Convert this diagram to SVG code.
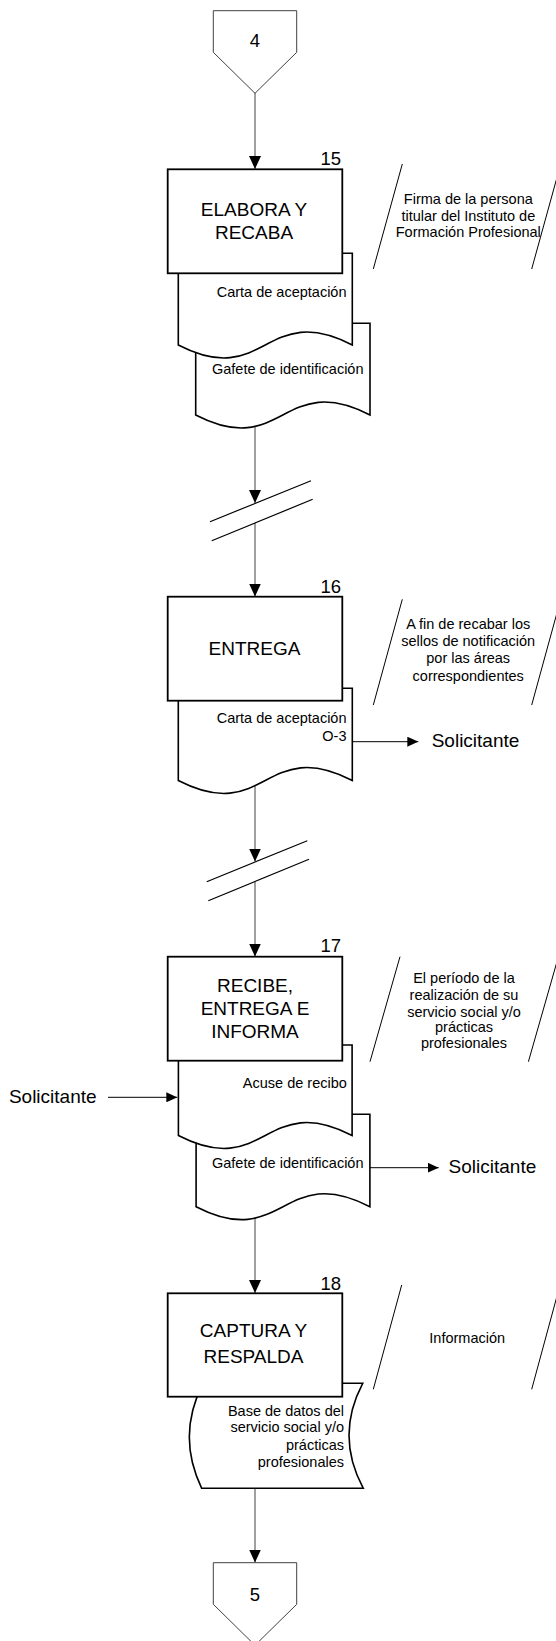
<svg xmlns="http://www.w3.org/2000/svg" width="556" height="1641" viewBox="0 0 556 1641">
<style>
.conn{fill:none;stroke:#808080;stroke-width:1.5}
.hline{fill:none;stroke:#000;stroke-width:1}
.off{fill:#fff;stroke:#404040;stroke-width:1}
.box{fill:#fff;stroke:#000;stroke-width:1.8}
.doc{fill:#fff;stroke:#000;stroke-width:1.6}
.brk{fill:none;stroke:#000;stroke-width:1.2}
.ann{fill:none;stroke:#000;stroke-width:1}
text{font-family:"Liberation Sans",Arial,sans-serif;fill:#000}
.big{font-size:19px;text-anchor:middle}
.num{font-size:18.5px;text-anchor:end}
.lbl{font-size:18.5px;text-anchor:middle}
.small{font-size:14.5px;text-anchor:end}
.note{font-size:14.5px;text-anchor:middle}
.sol{font-size:19px}
</style>
<defs>
<marker id="av" markerUnits="userSpaceOnUse" markerWidth="13" markerHeight="12" refX="13" refY="6" orient="auto"><path d="M0,0 L13,6 L0,12 Z" fill="#000"/></marker>
<marker id="ah" markerUnits="userSpaceOnUse" markerWidth="11" markerHeight="10" refX="11" refY="5" orient="auto"><path d="M0,0 L11,5 L0,10 Z" fill="#000"/></marker>
</defs>

<g id="connectors">
<line class="conn" x1="255" y1="93" x2="255" y2="169" marker-end="url(#av)"/>
<line class="conn" x1="255" y1="415" x2="255" y2="503" marker-end="url(#av)"/>
<line class="conn" x1="255" y1="523" x2="255" y2="596.5" marker-end="url(#av)"/>
<line class="conn" x1="255" y1="780" x2="255" y2="861.5" marker-end="url(#av)"/>
<line class="conn" x1="255" y1="881.5" x2="255" y2="956.5" marker-end="url(#av)"/>
<line class="conn" x1="255" y1="1206" x2="255" y2="1293" marker-end="url(#av)"/>
<line class="conn" x1="255" y1="1488" x2="255" y2="1562.5" marker-end="url(#av)"/>
<line class="hline" x1="352" y1="741.7" x2="418.3" y2="741.7" marker-end="url(#ah)"/>
<line class="hline" x1="108" y1="1097.3" x2="177.3" y2="1097.3" marker-end="url(#ah)"/>
<line class="hline" x1="370" y1="1167.7" x2="438.7" y2="1167.7" marker-end="url(#ah)"/>
<g id="break1">
<line class="brk" x1="210" y1="521.7" x2="311" y2="480.7"/>
<line class="brk" x1="211.7" y1="540.7" x2="312.7" y2="499.3"/>
</g>
<g id="break2">
<line class="brk" x1="206.7" y1="881.7" x2="307.3" y2="840.7"/>
<line class="brk" x1="208.3" y1="900.7" x2="309" y2="859.3"/>
</g>
</g>

<g id="offpage4">
<path class="off" d="M213.3,10.7 L296.7,10.7 L296.7,52.3 L255,93.3 L213.3,52.3 Z"/>
<text class="lbl" x="255" y="47">4</text>
</g>

<!-- Step 15 -->
<g id="doc15b">
<path class="doc" d="M195.7,323.3 L370,323.3 L370,415 C282.8,370 282.8,460 195.7,415 Z"/>
<text class="small" x="363.5" y="374">Gafete de identificación</text>
</g>
<g id="doc15a">
<path class="doc" d="M178.3,253.3 L352.3,253.3 L352.3,345 C265.3,300 265.3,390 178.3,345 Z"/>
<text class="small" x="346.5" y="296.7">Carta de aceptación</text>
</g>
<g id="step15">
<rect class="box" x="167.7" y="169.3" width="174.6" height="104"/>
<text class="big" x="254" y="215.7">ELABORA Y</text>
<text class="big" x="254" y="238.5">RECABA</text>
<text class="num" x="341" y="165">15</text>
</g>
<g id="note15">
<line class="ann" x1="402.3" y1="164" x2="373.3" y2="269"/>
<line class="ann" x1="560.7" y1="164" x2="531.7" y2="269"/>
<text class="note" x="468.3" y="204.3">Firma de la persona</text>
<text class="note" x="468.3" y="220.8">titular del Instituto de</text>
<text class="note" x="468.3" y="237.3">Formación Profesional</text>
</g>

<!-- Step 16 -->
<g id="doc16">
<path class="doc" d="M178.3,688.3 L352.3,688.3 L352.3,780.5 C265.3,735.5 265.3,825.5 178.3,780.5 Z"/>
<text class="small" x="346.5" y="723.3">Carta de aceptación</text>
<text class="small" x="346.5" y="740.7">O-3</text>
</g>
<g id="step16">
<rect class="box" x="167.7" y="596.7" width="174.6" height="104"/>
<text class="big" x="254.5" y="655">ENTREGA</text>
<text class="num" x="341" y="592.7">16</text>
</g>
<g id="sol16">
<text class="sol" x="431.7" y="747">Solicitante</text>
</g>
<g id="note16">
<line class="ann" x1="402.3" y1="599.3" x2="373.3" y2="705"/>
<line class="ann" x1="560.7" y1="599.3" x2="531.7" y2="705"/>
<text class="note" x="468.2" y="629.3">A fin de recabar los</text>
<text class="note" x="468.2" y="646.3">sellos de notificación</text>
<text class="note" x="468.2" y="663.3">por las áreas</text>
<text class="note" x="468.2" y="680.5">correspondientes</text>
</g>

<!-- Step 17 -->
<g id="doc17b">
<path class="doc" d="M196.1,1114.3 L369.9,1114.3 L369.9,1206.7 C283,1161.7 283,1251.7 196.1,1206.7 Z"/>
<text class="small" x="363.5" y="1167.7">Gafete de identificación</text>
</g>
<g id="doc17a">
<path class="doc" d="M178.4,1045 L352.1,1045 L352.1,1135.5 C265.3,1090.5 265.3,1180.5 178.4,1135.5 Z"/>
<text class="small" x="346.8" y="1088.3">Acuse de recibo</text>
</g>
<g id="step17">
<rect class="box" x="167.7" y="956.7" width="174.6" height="104"/>
<text class="big" x="255" y="991.7">RECIBE,</text>
<text class="big" x="255" y="1015">ENTREGA E</text>
<text class="big" x="255" y="1038.3">INFORMA</text>
<text class="num" x="341" y="951.7">17</text>
</g>
<g id="sol17in">
<text class="sol" x="8.9" y="1103.3">Solicitante</text>
</g>
<g id="sol17out">
<text class="sol" x="448.6" y="1173.3">Solicitante</text>
</g>
<g id="note17">
<line class="ann" x1="400" y1="956.7" x2="370" y2="1061.7"/>
<line class="ann" x1="558.4" y1="956.7" x2="528.4" y2="1061.7"/>
<text class="note" x="464" y="983.3">El período de la</text>
<text class="note" x="464" y="1000">realización de su</text>
<text class="note" x="464" y="1016.5">servicio social y/o</text>
<text class="note" x="464" y="1032.3">prácticas</text>
<text class="note" x="464" y="1048.3">profesionales</text>
</g>

<!-- Step 18 -->
<g id="data18">
<path class="doc" d="M203,1383.3 L362.7,1383.3 Q335,1435.8 363.3,1488.3 L201.7,1488.3 Q176.3,1435.8 203,1383.3 Z"/>
<text class="small" x="344" y="1415.7">Base de datos del</text>
<text class="small" x="344" y="1431.7">servicio social y/o</text>
<text class="small" x="344" y="1450">prácticas</text>
<text class="small" x="344" y="1467.3">profesionales</text>
</g>
<g id="step18">
<rect class="box" x="167.7" y="1293.3" width="174.6" height="103.4"/>
<text class="big" x="253.5" y="1337.3">CAPTURA Y</text>
<text class="big" x="253.5" y="1363.3">RESPALDA</text>
<text class="num" x="341" y="1290">18</text>
</g>
<g id="note18">
<line class="ann" x1="401.7" y1="1285" x2="373.3" y2="1389.3"/>
<line class="ann" x1="560" y1="1285" x2="531.7" y2="1389.3"/>
<text class="note" x="467.2" y="1343.3">Información</text>
</g>

<g id="offpage5">
<path class="off" d="M213.3,1562.7 L296.7,1562.7 L296.7,1604.3 L255,1645.3 L213.3,1604.3 Z"/>
<text class="lbl" x="255" y="1600.5">5</text>
</g>
</svg>
